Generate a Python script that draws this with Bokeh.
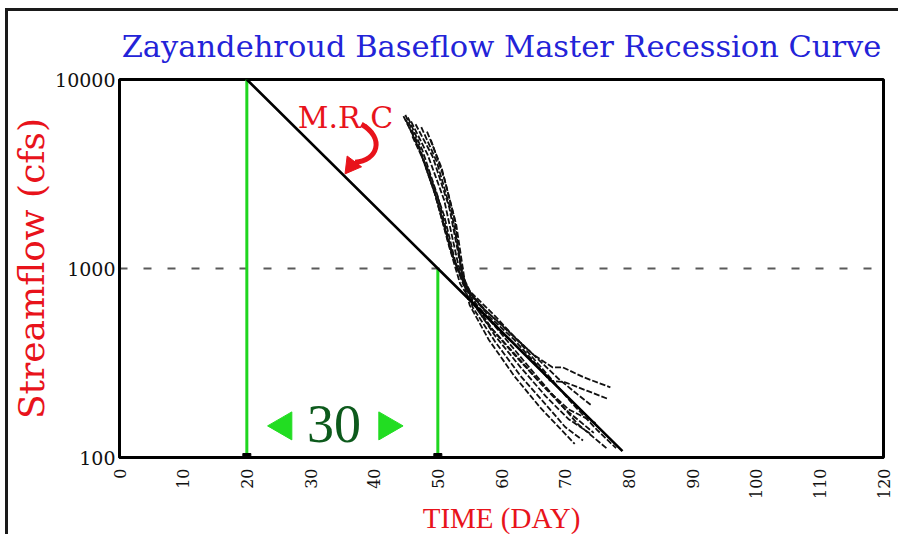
import math
from bokeh.plotting import figure
from bokeh.models import FixedTicker, PrintfTickFormatter, Label
from bokeh.embed import file_html
from bokeh.resources import INLINE

# ---------------- data ----------------
title_text = "Zayandehroud Baseflow Master Recession Curve"
x_label = "TIME (DAY)"
y_label = "Streamflow (cfs)"
x_ticks = [0, 10, 20, 30, 40, 50, 60, 70, 80, 90, 100, 110, 120]
y_ticks = [100, 1000, 10000]

# master recession curve (one log-cycle per 30 days)
mrc_x = [20, 50, 79]
mrc_y = [10000, 1000, 108]

# green guide lines
guide_x = [20, 50]
guide_top = [10000, 1000]
guide_bottom = [100, 100]

ref_level = 1000

# individual recession segments
c1_x = [44.6, 47.0, 49.5, 52.0, 54.0, 57.0, 61.0, 65.0, 68.0, 69.6, 73.0, 77.1]
c1_y = [6400, 4400, 2500, 1250, 820, 620, 470, 350, 300, 300, 265, 235]
c2_x = [45.3, 47.6, 50.0, 52.4, 54.5, 58.0, 62.0, 65.5, 67.6, 70.0, 73.5, 76.6]
c2_y = [6300, 4200, 2400, 1150, 780, 560, 420, 310, 255, 250, 225, 205]
c3_x = [45.8, 48.4, 51.0, 53.2, 55.0, 58.5, 62.5, 66.5, 70.5, 75.0]
c3_y = [6000, 4000, 2300, 1050, 720, 480, 340, 240, 180, 151]
c4_x = [46.5, 49.2, 51.8, 53.8, 55.5, 59.0, 63.0, 67.0, 70.5, 73.9]
c4_y = [5800, 3900, 2100, 950, 660, 440, 300, 210, 160, 134]
c5_x = [47.4, 49.8, 52.2, 54.0, 55.5, 59.0, 63.0, 67.0, 70.0, 72.8]
c5_y = [5600, 3700, 1950, 900, 620, 410, 270, 190, 145, 123]
c6_x = [48.3, 50.6, 52.6, 53.8, 55.0, 58.0, 62.0, 66.0, 71.5]
c6_y = [5300, 3400, 1850, 920, 640, 420, 270, 185, 118]
c7_x = [46.0, 48.5, 51.0, 53.0, 55.0, 59.0, 63.0, 67.0, 71.0, 75.0, 78.0]
c7_y = [5000, 3300, 1900, 1000, 760, 560, 400, 280, 195, 140, 112]
c8_x = [48.9, 51.0, 52.9, 54.2, 56.0, 60.0, 64.0, 68.0, 72.0, 76.5]
c8_y = [4800, 3000, 1700, 870, 650, 450, 310, 215, 150, 112]
c9_x = [45.0, 47.3, 49.8, 52.2, 54.3, 57.5, 61.5, 65.0, 69.0, 72.0, 74.0]
c9_y = [6100, 4100, 2350, 1200, 800, 600, 450, 350, 260, 215, 190]
c10_x = [44.9, 47.2, 49.4, 51.8, 53.5, 55.0, 58.0, 62.0, 66.0, 70.0, 74.5]
c10_y = [6500, 4300, 2600, 1300, 830, 690, 500, 350, 250, 180, 135]

# annotations
mrc_text = "M.R.C"
mrc_text_pos = (35.5, 6300)
pointer_start = (38.0, 5800)
pointer_c0 = (41.8, 4900)
pointer_c1 = (40.5, 3700)
pointer_end = (37.0, 3650)
span_text = "30"
span_text_pos = (33.7, 150)
span_left_tip = (25.8, 147)
span_right_tip = (42.0, 147)

# ---------------- figure ----------------
p = figure(width=893, height=526, y_axis_type="log",
           x_range=(0, 120), y_range=(100, 10000),
           output_backend="svg", toolbar_location=None,
           min_border_left=108, min_border_right=18,
           min_border_top=68, min_border_bottom=80)
p.styles = {"border-left": "3px solid #1a1a1a", "border-top": "3px solid #1a1a1a",
            "margin-left": "5px", "margin-top": "8px"}

p.background_fill_color = "white"
p.border_fill_color = "white"
p.outline_line_color = "black"
p.outline_line_width = 3
p.grid.visible = False

p.title.text = title_text
p.title.text_font = "DejaVu Serif"
p.title.text_font_size = "30.5px"
p.title.text_font_style = "normal"
p.title.text_color = "#2323d8"
p.title.align = "center"
p.title.standoff = 31

p.xaxis.ticker = FixedTicker(ticks=x_ticks, minor_ticks=[])
p.yaxis.ticker = FixedTicker(ticks=y_ticks, minor_ticks=[])
p.yaxis.formatter = PrintfTickFormatter(format="%d")
p.xaxis.major_label_orientation = math.pi / 2

for ax in (p.xaxis, p.yaxis):
    ax.axis_line_color = "black"
    ax.axis_line_width = 3
    ax.major_tick_line_color = None
    ax.minor_tick_line_color = None
    ax.major_tick_out = 0
    ax.major_tick_in = 0
    ax.major_label_text_font = "DejaVu Serif"
    ax.major_label_text_color = "#111111"
    ax.axis_label_text_font_style = "normal"
    ax.axis_label_text_color = "#e8131b"

p.xaxis.major_label_text_font_size = "16px"
p.xaxis.major_label_standoff = 11
p.xaxis.axis_label = x_label
p.xaxis.axis_label_text_font = "Liberation Serif"
p.xaxis.axis_label_text_font_size = "29px"
p.xaxis.axis_label_standoff = 0

p.yaxis.major_label_text_font_size = "19px"
p.yaxis.major_label_standoff = 4
p.yaxis.axis_label = y_label
p.yaxis.axis_label_text_font = "DejaVu Serif"
p.yaxis.axis_label_text_font_size = "36px"
p.yaxis.axis_label_standoff = 0

# reference dashed line at 1000
p.line(x=[x_ticks[0], x_ticks[-1]], y=[ref_level, ref_level],
       line_color="#5a5a5a", line_width=2, line_dash="8 16")

# recession curves
curves_x = [c1_x, c2_x, c3_x, c4_x, c5_x, c6_x, c7_x, c8_x, c9_x, c10_x]
curves_y = [c1_y, c2_y, c3_y, c4_y, c5_y, c6_y, c7_y, c8_y, c9_y, c10_y]
p.multi_line(xs=curves_x, ys=curves_y, line_color="#111111",
             line_width=1.8, line_dash="6 2")

# green guides
p.segment(x0=guide_x, y0=guide_bottom, x1=guide_x, y1=guide_top,
          line_color="#1fd61f", line_width=3)
p.scatter(x=guide_x, y=guide_bottom, marker="square", size=8,
          color="black")

# master recession curve
p.line(x=mrc_x, y=mrc_y, line_color="black", line_width=2.6)

# M.R.C label and curved pointer
p.add_layout(Label(x=mrc_text_pos[0], y=mrc_text_pos[1], text=mrc_text,
                   text_align="center", text_baseline="alphabetic",
                   text_font="DejaVu Serif", text_font_size="30px",
                   text_color="#e8131b"))
p.bezier(x0=[pointer_start[0]], y0=[pointer_start[1]],
         x1=[pointer_end[0]], y1=[pointer_end[1]],
         cx0=[pointer_c0[0]], cy0=[pointer_c0[1]],
         cx1=[pointer_c1[0]], cy1=[pointer_c1[1]],
         line_color="#e8131b", line_width=5)
p.scatter(x=[pointer_end[0] - 0.6], y=[pointer_end[1] * 0.96], marker="triangle",
          size=18, angle=2.5, color="#e8131b")

# 30-day span annotation
p.add_layout(Label(x=span_text_pos[0], y=span_text_pos[1], text=span_text,
                   text_align="center", text_baseline="middle",
                   text_font="Liberation Serif", text_font_size="54px",
                   text_color="#0d5a1c"))
p.scatter(x=[span_left_tip[0], span_right_tip[0]],
          y=[span_left_tip[1], span_right_tip[1]],
          marker="triangle", size=28, angle=[1.5708, -1.5708],
          color="#22dd22")

open("out.html", "w").write(file_html(p, INLINE))
